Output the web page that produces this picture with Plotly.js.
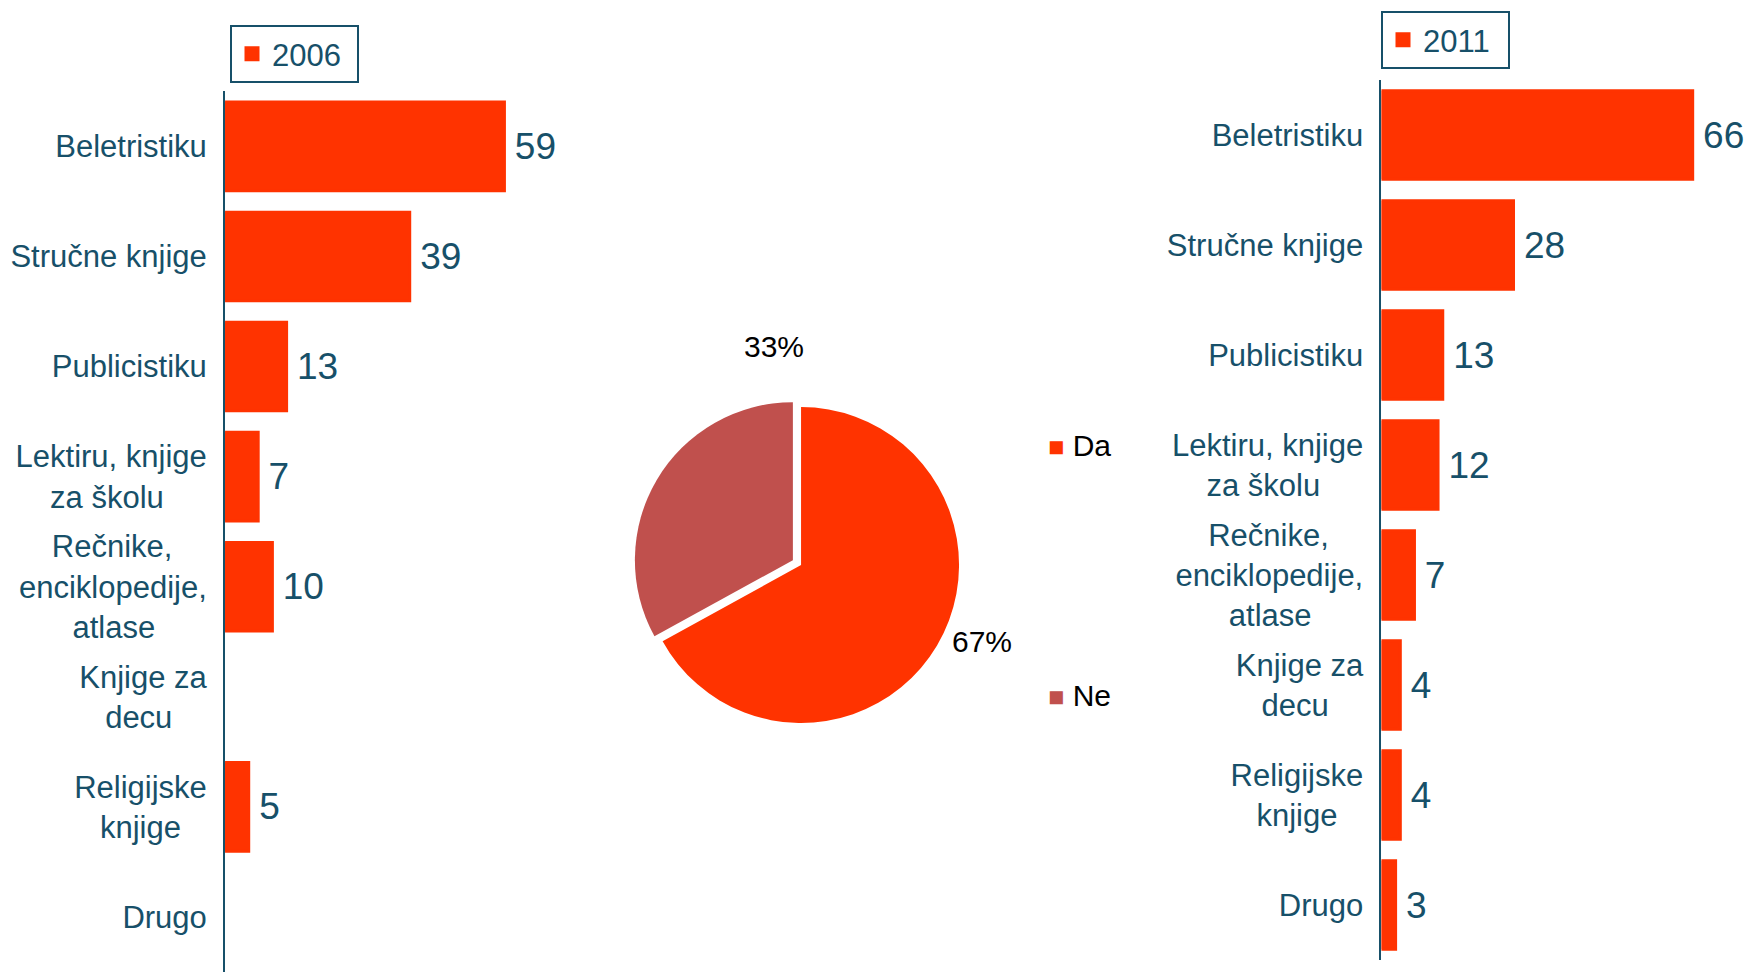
<!DOCTYPE html>
<html>
<head>
<meta charset="utf-8">
<script src="https://cdn.plot.ly/plotly-3.0.1.min.js"></script>
<style>
html,body{margin:0;padding:0;background:#ffffff;}
#chart{width:1754px;height:972px;}
</style>
</head>
<body>
<div id="chart"></div>
<script>
// ---------- data ----------
const categories = ["Beletristiku", "Stručne knjige", "Publicistiku", "Lektiru, knjige za školu",
  "Rečnike, enciklopedije, atlase", "Knjige za decu", "Religijske knjige", "Drugo"];
const tickLabels = ["Beletristiku", "Stručne knjige", "Publicistiku", "Lektiru, knjige<br>za školu",
  "Rečnike,<br>enciklopedije,<br>atlase", "Knjige za<br>decu", "Religijske<br>knjige", "Drugo"];
const values2006 = [59, 39, 13, 7, 10, null, 5, null];
const values2011 = [66, 28, 13, 12, 7, 4, 4, 3];
const seriesNames = ["2006", "2011"];
const pieLabels = ["Da", "Ne"];
const pieValues = [67, 33];

// ---------- style ----------
const FONT = "Liberation Sans, Arial, sans-serif";
const TEAL = "#175069";
const BAR = "#FF3300";
const PIE_COLORS = ["#FF3300", "#C0504D"];
const TICK_SIZE = 31;

// center multi-line tick labels by padding shorter lines with no-break spaces
const cv = document.createElement("canvas").getContext("2d");
cv.font = TICK_SIZE + "px 'Liberation Sans'";
const nb = cv.measureText("\u00A0").width || TICK_SIZE * 0.278;
function centered(label) {
  const lines = label.split("<br>");
  if (lines.length < 2) return label;
  const w = lines.map(l => cv.measureText(l).width);
  const m = Math.max(...w);
  return lines.map((l, i) => l + "\u00A0".repeat(Math.round((m - w[i]) / 2 / nb))).join("<br>");
}
const ticks = tickLabels.map(centered);
const txt = arr => arr.map(v => (v == null ? "" : "\u2009" + v));

const barCommon = {
  type: "bar", orientation: "h", y: categories,
  marker: {color: BAR, line: {color: BAR, width: 3}},
  textposition: "outside",
  textfont: {family: FONT, size: 37, color: TEAL}, cliponaxis: false,
  constraintext: "none", hoverinfo: "none"
};

const traces = [
  Object.assign({}, barCommon, {
    name: seriesNames[0], x: values2006, xaxis: "x", yaxis: "y",
    text: txt(values2006), legend: "legend"
  }),
  Object.assign({}, barCommon, {
    name: seriesNames[1], x: values2011, xaxis: "x2", yaxis: "y2",
    text: txt(values2011), legend: "legend2"
  }),
  {
    type: "pie", labels: pieLabels, values: pieValues,
    marker: {colors: PIE_COLORS, line: {width: 0}},
    pull: [0, 0.06], sort: false, direction: "clockwise", rotation: 0,
    textinfo: "none", showlegend: false, hoverinfo: "none",
    domain: {x: [0.3612, 0.5522], y: [0.2464, 0.5910]}
  }
];

const yCommon = {
  type: "category", categoryorder: "array", categoryarray: categories,
  tickvals: categories, ticktext: ticks, autorange: "reversed",
  showline: true, linecolor: TEAL, linewidth: 2, ticks: "",
  tickfont: {family: FONT, size: TICK_SIZE, color: TEAL},
  ticklabelstandoff: 10, showgrid: false, zeroline: false
};

const total = pieValues.reduce((a, b) => a + b, 0);
const pct = pieValues.map(v => Math.round(v / total * 100) + "%");
const pctPos = [[982, 641], [774, 347]];
const legPos = [446, 695];

const annotations = [];
pct.forEach((p, i) => annotations.push({
  xref: "paper", yref: "paper", x: pctPos[i][0] / 1754, y: 1 - pctPos[i][1] / 972,
  xanchor: "center", yanchor: "middle", showarrow: false, text: p,
  font: {family: FONT, size: 30, color: "#000000"}
}));
pieLabels.forEach((l, i) => annotations.push({
  xref: "paper", yref: "paper", x: 1046 / 1754, y: 1 - legPos[i] / 972,
  xanchor: "left", yanchor: "middle", showarrow: false,
  text: '<span style="color:' + PIE_COLORS[i] + ';font-size:27px">■</span> ' + l,
  font: {family: FONT, size: 30, color: "#000000"}
}));

const legendCommon = {
  xanchor: "left", yanchor: "top", bgcolor: "#ffffff",
  bordercolor: TEAL, borderwidth: 2, orientation: "h",
  entrywidth: 80, entrywidthmode: "pixels",
  font: {family: FONT, size: 31, color: TEAL}
};

const layout = {
  width: 1754, height: 972,
  margin: {l: 0, r: 0, t: 0, b: 0},
  paper_bgcolor: "#ffffff", plot_bgcolor: "rgba(0,0,0,0)",
  font: {family: FONT, color: TEAL},
  bargap: 0.195,
  showlegend: true,
  xaxis: {domain: [0.1283, 0.3729], range: [0, 90.6], visible: false, anchor: "y", fixedrange: true},
  yaxis: Object.assign({}, yCommon, {domain: [0, 0.906], anchor: "x"}),
  xaxis2: {domain: [0.7876, 1], range: [0, 79.0], visible: false, anchor: "y2", fixedrange: true},
  yaxis2: Object.assign({}, yCommon, {domain: [0.0123, 0.9177], anchor: "x2"}),
  legend: Object.assign({}, legendCommon, {x: 230 / 1754, y: 1 - 25 / 972}),
  legend2: Object.assign({}, legendCommon, {x: 1381 / 1754, y: 1 - 11 / 972}),
  annotations: annotations
};

Plotly.newPlot("chart", traces, layout, {staticPlot: true, displayModeBar: false});
</script>
</body>
</html>
